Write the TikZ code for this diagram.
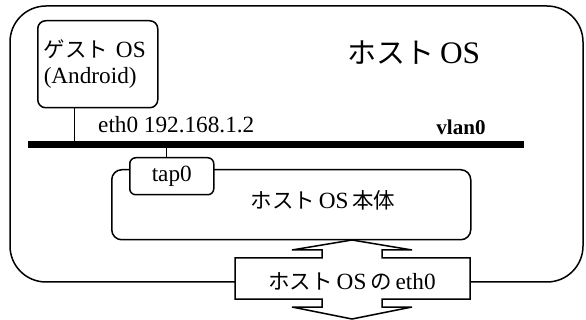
\documentclass[tikz,border=0pt]{standalone}
\usepackage{fontspec}
\setmainfont[Scale=1.08]{Liberation Serif}
\newfontfamily\jp{Noto Sans CJK JP}
\tikzset{
  boxline/.style={draw=black, line width=1.5pt},
  thinline/.style={draw=black, line width=1pt},
  txt/.style={font=\fontsize{21.5}{26}\selectfont, inner sep=0pt},
}
\begin{document}
\begin{tikzpicture}[x=1pt, y=-1pt]
\useasboundingbox (0,0) rectangle (586,320);
% outer host box
\draw[boxline, rounded corners=36pt] (10,6) rectangle (583,282);
\node[txt, font=\fontsize{29}{33}\selectfont] (hosttitle) at (414,53) {{\jp ホスト}\,OS};
% guest box
\node[boxline, rounded corners=8pt, anchor=north west, minimum width=120pt, minimum height=87pt,
      text width=108pt, align=left, inner sep=6pt, font=\fontsize{21.5}{26}\selectfont] (guest) at (37,20)
      {{\jp ゲスト}\ OS\\(Android)};
% bar
\node[fill=black, inner sep=0pt, minimum width=496pt, minimum height=7pt, anchor=north west] (bar) at (28,141) {};
\node[txt, anchor=west] (ethlabel) at (98,125) {eth0 192.168.1.2};
\node[txt, font=\bfseries\fontsize{19.5}{24}\selectfont] (vlan) at (461,127) {vlan0};
\draw[thinline] ([xshift=37pt]guest.south west) -- ([xshift=37pt]guest.south west |- bar.north);
% host body
\node[boxline, rounded corners=10pt, anchor=north west, minimum width=359pt, minimum height=70pt] (body) at (111,169) {};
\node[txt] (bodytext) at (323,200) {{\jp ホスト}\,OS\,{\jp 本体}};
\node[boxline, fill=white, rounded corners=6pt, anchor=north west, minimum width=84pt, minimum height=37pt,
      font=\fontsize{21.5}{26}\selectfont, inner sep=0pt] (tap) at (129,157) {tap0\hspace{10pt}};
\draw[thinline] (tap.north -| 166,0) -- (bar.south -| 166,0);
% double arrow box
\coordinate (tiptop) at (352,240);
\coordinate (tipbot) at (352,319);
\draw[boxline, fill=white, line join=miter]
  (tiptop) -- (412,250) -- (382,250) -- (382,258) -- (470,258) -- (470,299) -- (382,299) -- (382,307)
  -- (412,307) -- (tipbot) -- (292,307) -- (322,307) -- (322,299) -- (235,299) -- (235,258)
  -- (322,258) -- (322,250) -- (292,250) -- cycle;
\node[txt] (etharrow) at (352,281) {{\jp ホスト}\,OS\,{\jp の}\,eth0};
\end{tikzpicture}
\end{document}
